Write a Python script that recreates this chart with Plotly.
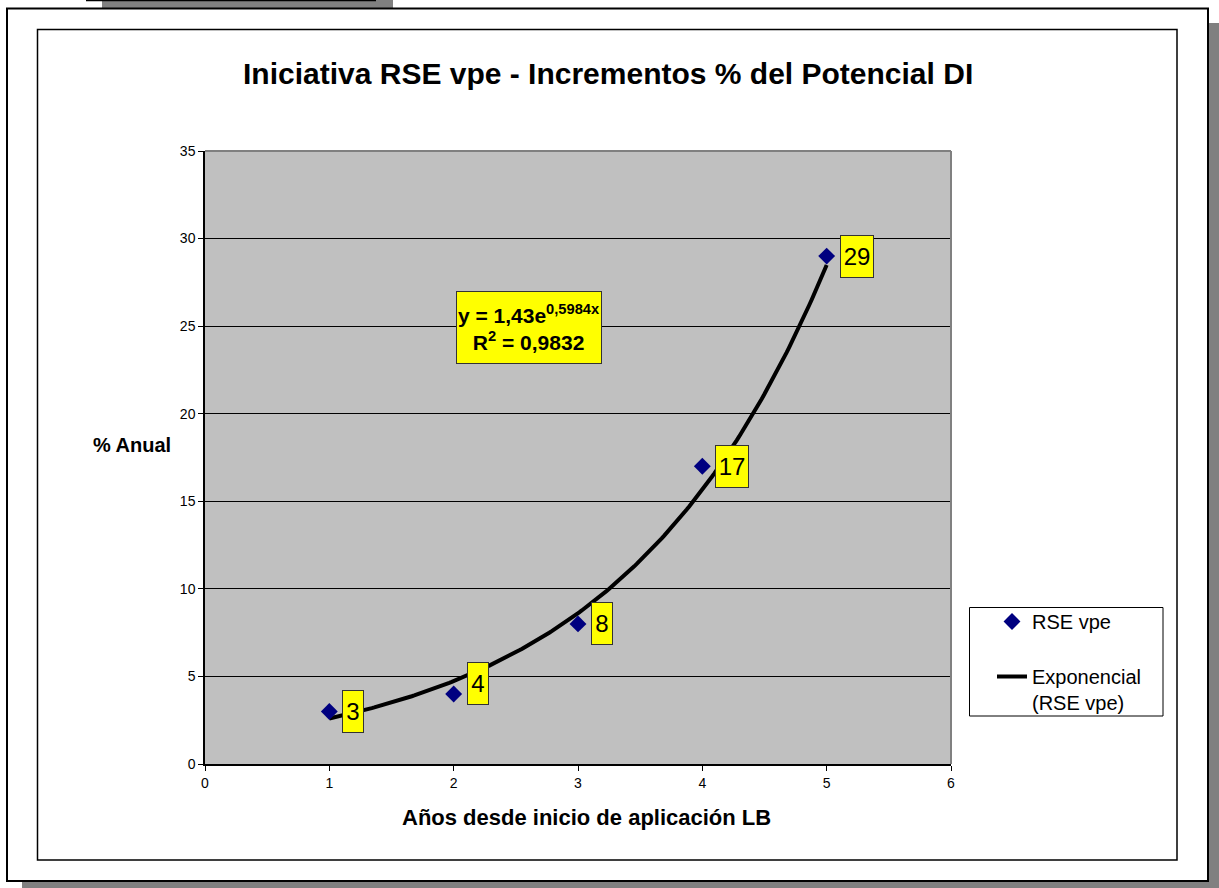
import numpy as np
import plotly.graph_objects as go

# Data
years = [1, 2, 3, 4, 5]
pct_anual = [3, 4, 8, 17, 29]
label_text = ["3", "4", "8", "17", "29"]
label_yshift = [0, 10, 0, 0, 0]

# Exponential trendline y = a * exp(b * x), R^2 reported alongside
trend_a = 1.43
trend_b = 0.5984
trend_r2 = 0.9832

W, H = 1219, 888
L, R, T, B = 205, 951, 151, 764  # plot area in pixels
FONT = "Liberation Sans, Arial, sans-serif"


def px(x):
    return (x - L) / (R - L)


def py(y):
    return (B - y) / (B - T)


xt = np.linspace(1, 5, 200)
yt = trend_a * np.exp(trend_b * xt)

fig = go.Figure()
fig.add_trace(go.Scatter(
    x=xt, y=yt, mode="lines", name="Exponencial<br>(RSE vpe)",
    line=dict(color="black", width=4), legendgroup="b", legendrank=2,
))
fig.add_trace(go.Scatter(
    x=years, y=pct_anual, mode="markers", name="RSE vpe",
    marker=dict(symbol="diamond", size=13, color="#000080"),
    legendgroup="a", legendrank=1, cliponaxis=False,
))

shapes = []
# small tab at top-left
shapes.append(dict(type="rect", xref="paper", yref="paper",
                   x0=px(102), x1=px(393), y0=py(-2), y1=py(16),
                   fillcolor="#808080", line=dict(width=0), layer="below"))
shapes.append(dict(type="line", xref="paper", yref="paper",
                   x0=px(86), x1=px(376), y0=py(0.5), y1=py(0.5),
                   line=dict(color="black", width=1.5), layer="below"))
# drop shadow of outer frame
shapes.append(dict(type="rect", xref="paper", yref="paper",
                   x0=px(22), x1=px(1230), y0=py(23), y1=py(900),
                   fillcolor="#808080", line=dict(width=0), layer="below"))
# outer frame
shapes.append(dict(type="rect", xref="paper", yref="paper",
                   x0=px(7), x1=px(1208), y0=py(8.5), y1=py(881),
                   fillcolor="white", line=dict(color="black", width=2), layer="below"))
# inner chart frame
shapes.append(dict(type="rect", xref="paper", yref="paper",
                   x0=px(37.5), x1=px(1177), y0=py(29.5), y1=py(860),
                   fillcolor="white", line=dict(color="black", width=1.5), layer="below"))
# plot area background
shapes.append(dict(type="rect", xref="paper", yref="paper",
                   x0=0, x1=1, y0=0, y1=1,
                   fillcolor="#C0C0C0", line=dict(width=0), layer="below"))
# gray top and right edges of plot area
shapes.append(dict(type="line", xref="paper", yref="paper",
                   x0=0, x1=1, y0=1, y1=1, line=dict(color="#808080", width=2)))
shapes.append(dict(type="line", xref="paper", yref="paper",
                   x0=1, x1=1, y0=0, y1=1, line=dict(color="#808080", width=2)))
# legend frame
shapes.append(dict(type="rect", xref="paper", yref="paper",
                   x0=px(969.5), x1=px(1163), y0=py(607.5), y1=py(716),
                   line=dict(color="black", width=1)))

annotations = []
# value labels
for xv, yv, txt, ys in zip(years, pct_anual, label_text, label_yshift):
    annotations.append(dict(
        x=xv, y=yv, xref="x", yref="y", text=txt, showarrow=False,
        xanchor="left", yanchor="middle", xshift=13, yshift=ys,
        font=dict(family=FONT, size=24, color="black"),
        bgcolor="#FFFF00", bordercolor="#333333", borderwidth=1, borderpad=0,
        width=20 if len(txt) == 1 else 32, height=41,
    ))
# trendline equation box
annotations.append(dict(
    x=px(529), y=py(327.5), xref="paper", yref="paper",
    text=("<b>y = %se<sup>%s</sup><br>R<sup>2</sup> = %s</b>" % (
        f"{trend_a:.2f}".replace(".", ","),
        f"{trend_b:.4f}x".replace(".", ","),
        f"{trend_r2:.4f}".replace(".", ","))),
    showarrow=False, xanchor="center", yanchor="middle",
    font=dict(family=FONT, size=21, color="black"),
    bgcolor="#FFFF00", bordercolor="#333333", borderwidth=1, borderpad=0,
    width=144, height=71,
))
# y axis title (horizontal)
annotations.append(dict(
    x=px(132), y=py(445), xref="paper", yref="paper", text="<b>% Anual</b>",
    showarrow=False, xanchor="center", yanchor="middle",
    font=dict(family=FONT, size=20, color="black"),
))
# x axis title
annotations.append(dict(
    x=px(586), y=py(817), xref="paper", yref="paper",
    text="<b>Años desde inicio de aplicación LB</b>",
    showarrow=False, xanchor="center", yanchor="middle",
    font=dict(family=FONT, size=22, color="black"),
))
# chart title
annotations.append(dict(
    x=px(608), y=py(73), xref="paper", yref="paper",
    text="<b>Iniciativa RSE vpe - Incrementos % del Potencial DI</b>",
    showarrow=False, xanchor="center", yanchor="middle",
    font=dict(family=FONT, size=30, color="black"),
))

fig.update_layout(
    width=W, height=H, autosize=False,
    margin=dict(l=L, r=W - R, t=T, b=H - B, pad=0),
    paper_bgcolor="white", plot_bgcolor="rgba(0,0,0,0)",
    font=dict(family=FONT, color="black"),
    shapes=shapes, annotations=annotations,
    showlegend=True,
    legend=dict(
        x=px(992), y=py(602), xanchor="left", yanchor="top",
        bgcolor="rgba(0,0,0,0)", borderwidth=0, valign="top",
        font=dict(family=FONT, size=20, color="black"),
        traceorder="grouped", tracegroupgap=26,
    ),
)
fig.update_xaxes(
    range=[0, 6], dtick=1, tick0=0, showgrid=False, zeroline=False,
    showline=True, linecolor="black", linewidth=1.5,
    ticks="outside", ticklen=5, tickcolor="black",
    tickfont=dict(family=FONT, size=14, color="black"),
)
fig.update_yaxes(
    range=[0, 35], dtick=5, tick0=0, showgrid=True, gridcolor="black",
    gridwidth=1, zeroline=False,
    showline=True, linecolor="black", linewidth=1.5,
    ticks="outside", ticklen=5, tickcolor="black",
    tickfont=dict(family=FONT, size=14, color="black"),
)

fig.write_html("out.html")
